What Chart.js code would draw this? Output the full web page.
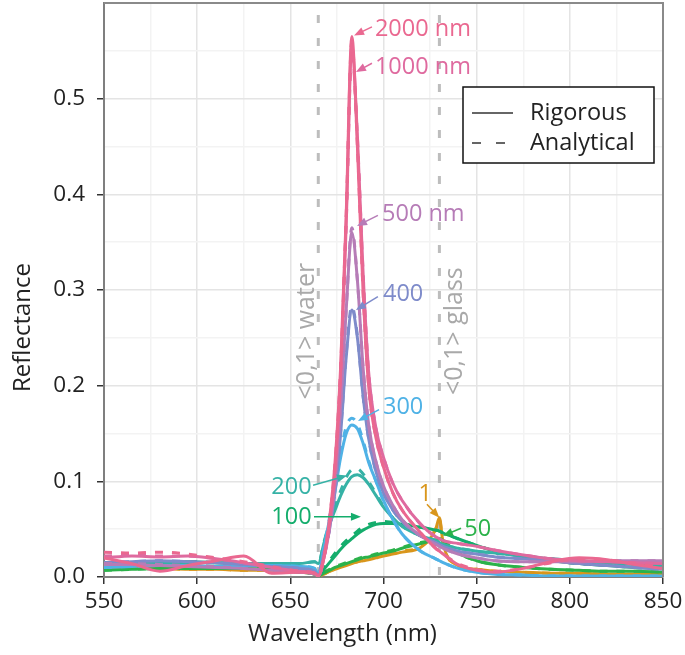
<!DOCTYPE html>
<html>
<head>
<meta charset="utf-8">
<script src="https://cdn.jsdelivr.net/npm/chart.js@4.4.0/dist/chart.umd.min.js"></script>
<style>
  html, body { margin: 0; padding: 0; background: #fff; }
  #wrap { width: 685px; height: 655px; }
</style>
</head>
<body>
<div id="wrap"><canvas id="myChart" width="685" height="655"></canvas></div>
<script>
// wavelength grid (nm) shared by every curve
var wavelength = [550, 565, 580, 595, 610, 625, 640, 655, 663, 665,
                  668, 671, 674, 677, 680, 683, 686, 689, 692, 696,
                  700, 705, 710, 720, 728, 730, 732, 740, 750, 760,
                  775, 790, 805, 820, 835, 850];

// film thickness of each pair of curves
var thickness = ['1', '50', '100', '200', '300', '400', '500', '1000', '2000'];
var seriesColors = ['#d9961c', '#2bb24a', '#14ad6c', '#36b2a6', '#4fb2e6', '#7e8bca', '#b67cb7', '#df6a9f', '#ea6890'];

// rigorous (solid) reflectance
var rig1    = [0.008, 0.009, 0.009, 0.008, 0.008, 0.007, 0.007, 0.005, 0.003, 0.001,
               0.003, 0.006, 0.008, 0.010, 0.012, 0.014, 0.016, 0.017, 0.018, 0.020,
               0.022, 0.024, 0.026, 0.031, 0.050, 0.062, 0.035, 0.012, 0.008, 0.006,
               0.005, 0.004, 0.004, 0.003, 0.003, 0.003];
var rig50   = [0.007, 0.008, 0.009, 0.009, 0.009, 0.009, 0.008, 0.005, 0.003, 0.001,
               0.004, 0.007, 0.010, 0.012, 0.014, 0.016, 0.018, 0.020, 0.021, 0.023,
               0.025, 0.027, 0.030, 0.035, 0.039, 0.040, 0.038, 0.025, 0.017, 0.013,
               0.010, 0.008, 0.007, 0.006, 0.006, 0.005];
var rig100  = [0.013, 0.015, 0.016, 0.016, 0.015, 0.014, 0.012, 0.008, 0.004, 0.001,
               0.008, 0.015, 0.022, 0.029, 0.035, 0.040, 0.045, 0.049, 0.052, 0.055,
               0.056, 0.056, 0.055, 0.052, 0.049, 0.048, 0.046, 0.040, 0.033, 0.027,
               0.021, 0.017, 0.014, 0.012, 0.010, 0.009];
var rig200  = [0.015, 0.015, 0.015, 0.015, 0.015, 0.014, 0.014, 0.014, 0.016, 0.014,
               0.035, 0.055, 0.070, 0.085, 0.097, 0.105, 0.107, 0.104, 0.097, 0.085,
               0.073, 0.062, 0.053, 0.043, 0.038, 0.036, 0.034, 0.030, 0.027, 0.025,
               0.022, 0.019, 0.017, 0.015, 0.013, 0.012];
var rig300  = [0.010, 0.011, 0.012, 0.012, 0.011, 0.012, 0.012, 0.011, 0.009, 0.003,
               0.030, 0.060, 0.090, 0.125, 0.150, 0.159, 0.155, 0.140, 0.120, 0.100,
               0.080, 0.060, 0.045, 0.027, 0.019, 0.017, 0.015, 0.009, 0.005, 0.003,
               0.002, 0.001, 0.001, 0.001, 0.001, 0.001];
var rig400  = [0.015, 0.016, 0.017, 0.016, 0.015, 0.013, 0.011, 0.009, 0.006, 0.002,
               0.025, 0.050, 0.090, 0.150, 0.230, 0.279, 0.250, 0.190, 0.145, 0.110,
               0.088, 0.070, 0.058, 0.043, 0.036, 0.034, 0.032, 0.027, 0.024, 0.021,
               0.019, 0.017, 0.014, 0.012, 0.010, 0.008];
var rig500  = [0.013, 0.013, 0.012, 0.011, 0.010, 0.009, 0.007, 0.005, 0.003, 0.001,
               0.020, 0.050, 0.100, 0.180, 0.280, 0.360, 0.310, 0.220, 0.160, 0.120,
               0.095, 0.075, 0.060, 0.043, 0.034, 0.032, 0.030, 0.024, 0.020, 0.017,
               0.016, 0.016, 0.016, 0.017, 0.017, 0.017];
var rig1000 = [0.020, 0.022, 0.021, 0.022, 0.019, 0.015, 0.010, 0.006, 0.004, 0.001,
               0.020, 0.055, 0.110, 0.210, 0.370, 0.555, 0.460, 0.320, 0.215, 0.155,
               0.125, 0.098, 0.080, 0.055, 0.042, 0.040, 0.038, 0.035, 0.032, 0.028,
               0.023, 0.019, 0.017, 0.016, 0.015, 0.014];
var rig2000 = [0.020, 0.014, 0.006, 0.012, 0.017, 0.022, 0.004, 0.005, 0.004, 0.001,
               0.020, 0.060, 0.120, 0.220, 0.380, 0.565, 0.450, 0.300, 0.200, 0.145,
               0.115, 0.088, 0.070, 0.046, 0.030, 0.027, 0.024, 0.013, 0.007, 0.005,
               0.009, 0.016, 0.020, 0.018, 0.013, 0.009];

// analytical (dashed) reflectance
var ana1    = [0.008, 0.009, 0.009, 0.008, 0.008, 0.007, 0.007, 0.005, 0.003, 0.001,
               0.003, 0.006, 0.009, 0.011, 0.013, 0.015, 0.016, 0.018, 0.019, 0.021,
               0.023, 0.025, 0.027, 0.032, 0.050, 0.060, 0.034, 0.012, 0.008, 0.006,
               0.005, 0.004, 0.004, 0.003, 0.003, 0.003];
var ana50   = [0.007, 0.008, 0.009, 0.009, 0.009, 0.009, 0.008, 0.005, 0.003, 0.001,
               0.005, 0.008, 0.011, 0.013, 0.015, 0.017, 0.019, 0.021, 0.022, 0.024,
               0.026, 0.028, 0.031, 0.036, 0.039, 0.040, 0.038, 0.025, 0.017, 0.013,
               0.010, 0.008, 0.007, 0.006, 0.006, 0.005];
var ana100  = [0.013, 0.015, 0.016, 0.016, 0.015, 0.014, 0.012, 0.008, 0.004, 0.001,
               0.009, 0.017, 0.025, 0.032, 0.038, 0.043, 0.048, 0.052, 0.055, 0.057,
               0.058, 0.057, 0.056, 0.052, 0.049, 0.048, 0.046, 0.040, 0.033, 0.027,
               0.021, 0.017, 0.014, 0.012, 0.010, 0.009];
var ana200  = [0.015, 0.015, 0.015, 0.015, 0.015, 0.014, 0.014, 0.014, 0.016, 0.014,
               0.036, 0.057, 0.074, 0.090, 0.104, 0.112, 0.113, 0.108, 0.100, 0.087,
               0.074, 0.062, 0.053, 0.043, 0.038, 0.036, 0.034, 0.030, 0.027, 0.025,
               0.022, 0.019, 0.017, 0.015, 0.013, 0.012];
var ana300  = [0.010, 0.011, 0.012, 0.012, 0.011, 0.012, 0.012, 0.011, 0.009, 0.003,
               0.030, 0.062, 0.095, 0.130, 0.157, 0.166, 0.160, 0.143, 0.122, 0.100,
               0.080, 0.060, 0.045, 0.027, 0.019, 0.017, 0.015, 0.009, 0.005, 0.003,
               0.002, 0.001, 0.001, 0.001, 0.001, 0.001];
var ana400  = [0.015, 0.016, 0.017, 0.016, 0.015, 0.013, 0.011, 0.009, 0.006, 0.002,
               0.025, 0.050, 0.090, 0.152, 0.233, 0.283, 0.252, 0.190, 0.145, 0.110,
               0.088, 0.070, 0.058, 0.043, 0.036, 0.034, 0.032, 0.027, 0.024, 0.021,
               0.019, 0.017, 0.014, 0.012, 0.010, 0.008];
var ana500  = [0.014, 0.014, 0.013, 0.012, 0.011, 0.009, 0.007, 0.005, 0.003, 0.001,
               0.020, 0.050, 0.100, 0.180, 0.280, 0.365, 0.310, 0.220, 0.160, 0.120,
               0.095, 0.075, 0.060, 0.043, 0.034, 0.032, 0.030, 0.024, 0.020, 0.017,
               0.016, 0.016, 0.016, 0.017, 0.017, 0.017];
var ana1000 = [0.022, 0.023, 0.022, 0.022, 0.019, 0.015, 0.010, 0.006, 0.004, 0.001,
               0.020, 0.055, 0.110, 0.210, 0.370, 0.550, 0.460, 0.320, 0.215, 0.155,
               0.125, 0.098, 0.080, 0.055, 0.042, 0.040, 0.038, 0.035, 0.032, 0.028,
               0.023, 0.019, 0.017, 0.016, 0.015, 0.014];
var ana2000 = [0.026, 0.025, 0.026, 0.024, 0.020, 0.016, 0.011, 0.006, 0.004, 0.001,
               0.020, 0.060, 0.120, 0.220, 0.380, 0.560, 0.450, 0.300, 0.200, 0.145,
               0.115, 0.088, 0.070, 0.046, 0.030, 0.027, 0.024, 0.014, 0.008, 0.006,
               0.009, 0.015, 0.019, 0.018, 0.014, 0.010];

var rigorous = [rig1, rig50, rig100, rig200, rig300, rig400, rig500, rig1000, rig2000];
var analytical = [ana1, ana50, ana100, ana200, ana300, ana400, ana500, ana1000, ana2000];

// Rayleigh anomaly markers
var anomalyWavelength = [665, 730];
var anomalyText = ['<0,1> water', '<0,1> glass'];
var anomalyTextX = [659, 738.5];
var anomalyTextY = 0.257;

// curve labels with arrows (data coordinates)
var annText   = ['2000 nm', '1000 nm', '500 nm', '400', '300', '200', '100', '1', '50'];
var annSeries = [8, 7, 6, 5, 4, 3, 2, 0, 1];
var annAlign  = ['left', 'left', 'left', 'left', 'left', 'right', 'right', 'left', 'left'];
var annTextX  = [695.4, 695.4, 699.2, 699.7, 699.7, 661.4, 661.4, 718.8, 743.4];
var annTextY  = [0.573, 0.533, 0.379, 0.296, 0.177, 0.094, 0.062, 0.086, 0.050];
var arrowFromX = [693.8, 693.8, 697.0, 697.0, 697.6, 662.2, 662.7, 723.3, 741.6];
var arrowFromY = [0.575, 0.537, 0.378, 0.293, 0.175, 0.096, 0.063, 0.076, 0.051];
var arrowToX   = [684.2, 685.2, 685.8, 685.2, 686.3, 680.4, 687.9, 730.0, 731.9];
var arrowToY   = [0.566, 0.528, 0.367, 0.279, 0.163, 0.106, 0.063, 0.062, 0.043];

var FONT = "'Open Sans', 'Noto Sans', sans-serif";

function toPoints(values) {
    return wavelength.map(function (w, i) { return { x: w, y: values[i] }; });
}

function buildDatasets() {
    var sets = [];
    for (var i = 0; i < thickness.length; i++) {
        sets.push({
            label: thickness[i] + ' rigorous',
            data: toPoints(rigorous[i]),
            borderColor: seriesColors[i],
            borderWidth: 3,
            pointRadius: 0,
            cubicInterpolationMode: 'monotone',
            order: (thickness.length - 1 - i) * 2 + 1
        });
        sets.push({
            label: thickness[i] + ' analytical',
            data: toPoints(analytical[i]),
            borderColor: seriesColors[i],
            borderWidth: 3,
            borderDash: [8, 9],
            pointRadius: 0,
            cubicInterpolationMode: 'monotone',
            order: (thickness.length - 1 - i) * 2
        });
    }
    return sets;
}

// dashed vertical lines and their rotated labels, behind the curves
var anomalyPlugin = {
    id: 'anomaly',
    beforeDatasetsDraw: function (chart) {
        var ctx = chart.ctx, xs = chart.scales.x, ys = chart.scales.y, area = chart.chartArea;
        ctx.save();
        ctx.strokeStyle = '#bdbdbd';
        ctx.lineWidth = 3;
        ctx.setLineDash([8, 15]);
        anomalyWavelength.forEach(function (w) {
            var px = xs.getPixelForValue(w);
            ctx.beginPath();
            ctx.moveTo(px, area.top + 12);
            ctx.lineTo(px, area.bottom);
            ctx.stroke();
        });
        ctx.setLineDash([]);
        ctx.fillStyle = '#a9a9a9';
        ctx.font = '25px ' + FONT;
        ctx.textAlign = 'center';
        ctx.textBaseline = 'middle';
        anomalyText.forEach(function (t, i) {
            ctx.save();
            ctx.translate(xs.getPixelForValue(anomalyTextX[i]), ys.getPixelForValue(anomalyTextY));
            ctx.rotate(-Math.PI / 2);
            ctx.fillText(t, 0, 0);
            ctx.restore();
        });
        ctx.restore();
    }
};

// frame, axis titles, curve labels and the small legend box
var overlayPlugin = {
    id: 'overlay',
    afterDatasetsDraw: function (chart) {
        var ctx = chart.ctx, xs = chart.scales.x, ys = chart.scales.y, area = chart.chartArea;
        ctx.save();

        // labels with arrows
        ctx.font = '23.5px ' + FONT;
        ctx.textBaseline = 'middle';
        for (var i = 0; i < annText.length; i++) {
            var col = seriesColors[annSeries[i]];
            var x0 = xs.getPixelForValue(arrowFromX[i]), y0 = ys.getPixelForValue(arrowFromY[i]);
            var x1 = xs.getPixelForValue(arrowToX[i]), y1 = ys.getPixelForValue(arrowToY[i]);
            var ang = Math.atan2(y1 - y0, x1 - x0);
            ctx.strokeStyle = col;
            ctx.fillStyle = col;
            ctx.lineWidth = 1.5;
            ctx.beginPath();
            ctx.moveTo(x0, y0);
            ctx.lineTo(x1 - 6 * Math.cos(ang), y1 - 6 * Math.sin(ang));
            ctx.stroke();
            ctx.beginPath();
            ctx.moveTo(x1, y1);
            ctx.lineTo(x1 - 10 * Math.cos(ang) + 4 * Math.sin(ang), y1 - 10 * Math.sin(ang) - 4 * Math.cos(ang));
            ctx.lineTo(x1 - 10 * Math.cos(ang) - 4 * Math.sin(ang), y1 - 10 * Math.sin(ang) + 4 * Math.cos(ang));
            ctx.closePath();
            ctx.fill();
            ctx.textAlign = annAlign[i];
            ctx.fillText(annText[i], xs.getPixelForValue(annTextX[i]), ys.getPixelForValue(annTextY[i]));
        }

        // top and right edges of the plot box
        ctx.strokeStyle = '#8a8a8a';
        ctx.lineWidth = 2;
        ctx.beginPath();
        ctx.moveTo(area.left, area.top);
        ctx.lineTo(area.right, area.top);
        ctx.lineTo(area.right, area.bottom);
        ctx.stroke();

        // axis titles, centred on the figure like the original
        ctx.fillStyle = '#222';
        ctx.font = '24px ' + FONT;
        ctx.textAlign = 'center';
        ctx.fillText('Wavelength (nm)', chart.width / 2, 634);
        ctx.save();
        ctx.translate(23, chart.height / 2);
        ctx.rotate(-Math.PI / 2);
        ctx.fillText('Reflectance', 0, 0);
        ctx.restore();

        // legend
        var bx = area.right - 200, by = area.top + 84;
        ctx.fillStyle = '#fff';
        ctx.fillRect(bx, by, 191, 76);
        ctx.strokeStyle = '#111';
        ctx.lineWidth = 1.5;
        ctx.strokeRect(bx, by, 191, 76);
        ctx.strokeStyle = '#333';
        ctx.lineWidth = 1.5;
        ctx.beginPath();
        ctx.moveTo(bx + 9, by + 26);
        ctx.lineTo(bx + 50, by + 26);
        ctx.stroke();
        ctx.setLineDash([9, 15]);
        ctx.beginPath();
        ctx.moveTo(bx + 9, by + 56);
        ctx.lineTo(bx + 50, by + 56);
        ctx.stroke();
        ctx.setLineDash([]);
        ctx.fillStyle = '#222';
        ctx.textAlign = 'left';
        ctx.font = '23.5px ' + FONT;
        ctx.fillText('Rigorous', bx + 67, by + 26);
        ctx.fillText('Analytical', bx + 67, by + 56);
        ctx.restore();
    }
};

function isMajor(v, step) {
    return Math.abs(v / step - Math.round(v / step)) < 1e-6;
}

function createChart() {
    var ctx = document.getElementById('myChart').getContext('2d');
    new Chart(ctx, {
        type: 'line',
        data: { datasets: buildDatasets() },
        options: {
            responsive: false,
            animation: false,
            events: [],
            layout: { padding: { left: 0, right: 22, top: 3, bottom: 0 } },
            plugins: { legend: { display: false }, tooltip: { enabled: false } },
            scales: {
                x: {
                    type: 'linear',
                    min: 550,
                    max: 850,
                    afterFit: function (scale) {
                        scale.height = 78;
                        scale.paddingLeft = 0;
                        scale.paddingRight = 0;
                    },
                    border: { color: '#7f7f7f', width: 2 },
                    grid: {
                        color: function (c) { return isMajor(c.tick.value, 50) ? '#e4e4e4' : '#f3f3f3'; },
                        lineWidth: 1.5,
                        tickLength: 7,
                        tickColor: function (c) { return isMajor(c.tick.value, 50) ? '#333' : 'rgba(0,0,0,0)'; }
                    },
                    ticks: {
                        stepSize: 25,
                        padding: 4,
                        color: '#222',
                        font: { family: FONT, size: 22.5 },
                        maxRotation: 0,
                        autoSkip: false,
                        callback: function (v) { return isMajor(v, 50) ? String(v) : ''; }
                    }
                },
                y: {
                    min: 0,
                    max: 0.6,
                    afterFit: function (scale) {
                        scale.width = 104;
                        scale.paddingTop = 0;
                        scale.paddingBottom = 0;
                    },
                    border: { color: '#7f7f7f', width: 2 },
                    grid: {
                        color: function (c) { return isMajor(c.tick.value, 0.1) ? '#e4e4e4' : '#f3f3f3'; },
                        lineWidth: 1.5,
                        tickLength: 7,
                        tickColor: function (c) { return isMajor(c.tick.value, 0.1) && c.tick.value < 0.55 ? '#333' : 'rgba(0,0,0,0)'; }
                    },
                    ticks: {
                        stepSize: 0.05,
                        padding: 12,
                        color: '#222',
                        font: { family: FONT, size: 22.5 },
                        autoSkip: false,
                        callback: function (v) { return isMajor(v, 0.1) && v < 0.55 ? v.toFixed(1) : ''; }
                    }
                }
            }
        },
        plugins: [anomalyPlugin, overlayPlugin]
    });
}

document.addEventListener('DOMContentLoaded', function () {
    createChart();
});
</script>
</body>
</html>
